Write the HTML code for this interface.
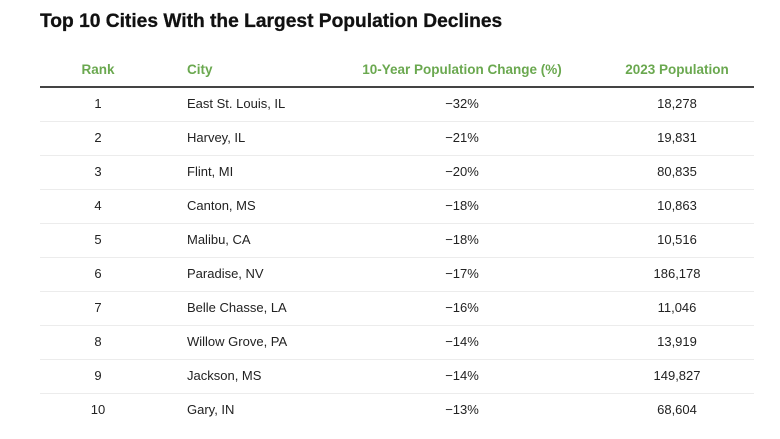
<!DOCTYPE html>
<html>
<head>
<meta charset="utf-8">
<style>
  html,body{margin:0;padding:0;background:#fff;}
  body{width:780px;height:439px;position:relative;overflow:hidden;font-family:"Liberation Sans",Arial,sans-serif;color:#222;}
  .title{position:absolute;left:40px;top:9px;font-size:19.2px;font-weight:bold;color:#111;line-height:26px;white-space:nowrap;-webkit-text-stroke:0.3px #111;}
  .h{position:absolute;top:60px;line-height:20px;font-size:13.5px;font-weight:bold;color:#6aa84f;white-space:nowrap;}
  .hline{position:absolute;left:40px;width:714px;top:86px;height:2px;background:#444;}
  .row{position:absolute;left:40px;width:714px;height:34px;}
  .row .sep{position:absolute;left:0;right:0;bottom:0;height:1px;background:#ececec;}
  .c{position:absolute;top:0;line-height:32px;font-size:13px;white-space:nowrap;color:#222;}
  .rank{left:18px;width:80px;text-align:center;}
  .city{left:147px;}
  .chg{left:322px;width:200px;text-align:center;}
  .pop{left:577px;width:120px;text-align:center;}
</style>
</head>
<body>
<div class="title">Top 10 Cities With the Largest Population Declines</div>

<div class="h" style="left:58px;width:80px;text-align:center;">Rank</div>
<div class="h" style="left:187px;">City</div>
<div class="h" style="left:362px;width:200px;text-align:center;">10-Year Population Change (%)</div>
<div class="h" style="left:617px;width:120px;text-align:center;">2023 Population</div>
<div class="hline"></div>

<div class="row" style="top:88px;"><div class="c rank">1</div><div class="c city">East St. Louis, IL</div><div class="c chg">−32%</div><div class="c pop">18,278</div><div class="sep"></div></div>
<div class="row" style="top:122px;"><div class="c rank">2</div><div class="c city">Harvey, IL</div><div class="c chg">−21%</div><div class="c pop">19,831</div><div class="sep"></div></div>
<div class="row" style="top:156px;"><div class="c rank">3</div><div class="c city">Flint, MI</div><div class="c chg">−20%</div><div class="c pop">80,835</div><div class="sep"></div></div>
<div class="row" style="top:190px;"><div class="c rank">4</div><div class="c city">Canton, MS</div><div class="c chg">−18%</div><div class="c pop">10,863</div><div class="sep"></div></div>
<div class="row" style="top:224px;"><div class="c rank">5</div><div class="c city">Malibu, CA</div><div class="c chg">−18%</div><div class="c pop">10,516</div><div class="sep"></div></div>
<div class="row" style="top:258px;"><div class="c rank">6</div><div class="c city">Paradise, NV</div><div class="c chg">−17%</div><div class="c pop">186,178</div><div class="sep"></div></div>
<div class="row" style="top:292px;"><div class="c rank">7</div><div class="c city">Belle Chasse, LA</div><div class="c chg">−16%</div><div class="c pop">11,046</div><div class="sep"></div></div>
<div class="row" style="top:326px;"><div class="c rank">8</div><div class="c city">Willow Grove, PA</div><div class="c chg">−14%</div><div class="c pop">13,919</div><div class="sep"></div></div>
<div class="row" style="top:360px;"><div class="c rank">9</div><div class="c city">Jackson, MS</div><div class="c chg">−14%</div><div class="c pop">149,827</div><div class="sep"></div></div>
<div class="row" style="top:394px;"><div class="c rank">10</div><div class="c city">Gary, IN</div><div class="c chg">−13%</div><div class="c pop">68,604</div></div>
</body>
</html>
